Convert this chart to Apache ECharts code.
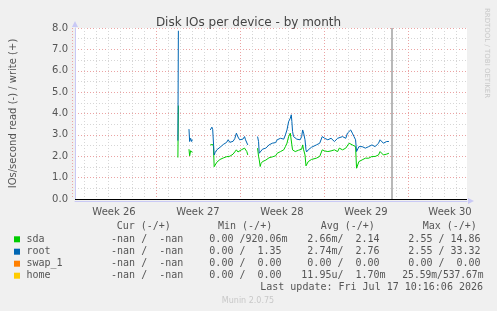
<!DOCTYPE html>
<html>
<head>
<meta charset="utf-8">
<script src="https://cdn.jsdelivr.net/npm/echarts@6/dist/echarts.min.js"></script>
<style>
html, body { margin: 0; padding: 0; background: #f0f0f0; }
#main { width: 497px; height: 311px; }
</style>
</head>
<body>
<div id="main"></div>
<script>
// days counted from the Monday that starts week 26
var days = [
	8.333, 8.375, 8.8,
	9.275, 9.333, 9.417, 9.5, 9.558, 10.3,
	11.083, 11.225, 11.292, 11.358, 11.417, 11.5, 11.642, 11.775, 11.917, 12.058,
	12.192, 12.333, 12.475, 12.608, 12.75, 12.892, 13.025, 13.167, 13.308, 13.442,
	13.583, 13.725, 13.858, 14.0, 14.083, 14.192, 14.275, 14.7,
	15.108, 15.192, 15.25, 15.333, 15.392, 15.525, 15.667, 15.808, 15.942, 16.083,
	16.225, 16.358, 16.5, 16.642, 16.775, 16.917, 17.058, 17.192, 17.333, 17.475,
	17.608, 17.75, 17.892, 17.975, 18.025, 18.083, 18.167, 18.308, 18.442, 18.583,
	18.725, 18.858, 18.942, 19.025, 19.142, 19.225, 19.275, 19.417, 19.558, 19.692,
	19.833, 20.108, 20.392, 20.525, 20.608, 20.808, 21.083, 21.358, 21.642, 21.917,
	22.058, 22.333, 22.608, 22.75, 22.892, 23.025, 23.167, 23.308, 23.442, 23.525,
	23.725, 23.858, 24.0, 24.275, 24.558, 24.833, 25.108, 25.392, 25.525, 25.667,
	25.808, 25.942, 26.083, 26.275
];
// sda write (green), null = no data
var sdaWrite = [
	1.94, 4.37, null,
	2.33, 2.02, 2.26, 2.2, 2.17, null,
	2.53, 2.61, 2.55, 2.45, 1.51, 1.6, 1.72, 1.78, 1.85, 1.88,
	1.92, 1.95, 1.98, 2.05, 2.0, 2.02, 2.1, 2.15, 2.3, 2.2,
	2.22, 2.30, 2.22, 2.38, 2.30, 2.22, 2.06, null,
	2.38, 2.0, 1.83, 1.52, 1.65, 1.75, 1.80, 1.82, 1.91, 1.93,
	1.99, 1.97, 2.06, 2.02, 2.14, 2.10, 2.22, 2.18, 2.30, 2.45,
	2.61, 2.92, 3.08, 3.0, 2.53, 2.30, 2.25, 2.22, 2.30, 2.28,
	2.30, 2.33, 2.53, 2.30, 2.06, 1.55, 1.60, 1.75, 1.83, 1.85,
	1.83, 1.91, 1.99, 1.95, 2.30, 2.25, 2.22, 2.25, 2.30, 2.22,
	2.38, 2.30, 2.38, 2.45, 2.61, 2.55, 2.53, 2.53, 2.45, 1.44,
	1.75, 1.78, 1.83, 1.91, 1.91, 1.99, 1.99, 2.06, 2.22, 2.22,
	2.06, 2.06, 2.10, 2.14
];
// root write (blue)
var rootWrite = [
	2.73, 7.87, null,
	3.27, 2.69, 2.84, 2.69, 2.77, null,
	3.23, 3.36, 3.25, 3.2, 2.06, 2.17, 2.3, 2.38, 2.42, 2.48,
	2.55, 2.6, 2.65, 2.77, 2.65, 2.72, 2.7, 2.82, 3.08, 2.9,
	2.77, 2.84, 2.8, 2.92, 2.77, 2.69, 2.53, null,
	2.92, 2.69, 2.14, 2.2, 2.22, 2.33, 2.30, 2.38, 2.42, 2.53,
	2.50, 2.61, 2.69, 2.64, 2.77, 2.74, 2.84, 2.92, 2.80, 3.0,
	3.23, 3.62, 3.78, 3.94, 3.62, 3.16, 2.92, 2.84, 2.80, 2.84,
	2.77, 2.92, 3.23, 3.08, 2.77, 2.3, 2.2, 2.30, 2.38, 2.42,
	2.45, 2.53, 2.61, 2.53, 2.92, 2.84, 2.77, 2.84, 2.69, 2.84,
	2.77, 2.92, 2.84, 3.08, 3.0, 3.23, 3.08, 2.92, 2.77, 2.22,
	2.45, 2.38, 2.45, 2.38, 2.45, 2.53, 2.45, 2.61, 2.77, 2.84,
	2.61, 2.53, 2.69, 2.69
];
var weekLabels = ['Week 26', 'Week 27', 'Week 28', 'Week 29', 'Week 30'];
var nowDay = 26.5;

// legend table
var devices = ['sda', 'root', 'swap_1', 'home'];
var devColors = ['#00cc00', '#0066b3', '#ff8000', '#ffcc00'];
var curRead = ['-nan', '-nan', '-nan', '-nan'];
var curWrite = ['-nan', '-nan', '-nan', '-nan'];
var minRead = ['0.00', '0.00', '0.00', '0.00'];
var minWrite = ['920.06m', '1.35', '0.00', '0.00'];
var avgRead = ['2.66m', '2.74m', '0.00', '11.95u'];
var avgWrite = ['2.14', '2.76', '0.00', '1.70m'];
var maxRead = ['2.55', '2.55', '0.00', '25.59m'];
var maxWrite = ['14.86', '33.32', '0.00', '537.67m'];
var headers = ['Cur (-/+)', 'Min (-/+)', 'Avg (-/+)', 'Max (-/+)'];
var lastUpdate = 'Last update: Fri Jul 17 10:16:06 2026';

var myChart = echarts.init(document.getElementById('main'));

var DAY_PX = 12;
var X_MIN = (67 - 72) / DAY_PX;
var X_MAX = X_MIN + 400 / DAY_PX;
var GRID_DAYS = (467 - 72) / DAY_PX;
var MONO = 'DejaVu Sans Mono';

// rrdtool style "%6.2lf%s"
function pad(v) {
	var m = /^(-nan|-?[0-9.]+)([mukMG]?)$/.exec(v);
	var num = m[1];
	while (num.length < 6) num = ' ' + num;
	return num + (m[2] || ' ');
}
function cell(r, w) {
	return pad(r) + '/' + pad(w);
}

var graphics = [];
var headX = [116.7, 218, 320.7, 422.7];
var colX = [99, 197.3, 295.3, 396.3];
var rowY = [239.3, 251.7, 263.7, 275.7];
headers.forEach(function(h, i) {
	graphics.push({ type: 'text', x: headX[i], y: 226.7, silent: true,
		style: { text: h, font: '10px ' + MONO, fill: '#555', verticalAlign: 'middle' } });
});
devices.forEach(function(d, i) {
	var y = rowY[i];
	graphics.push({ type: 'rect', shape: { x: 14, y: y - 3, width: 6, height: 6 },
		style: { fill: devColors[i] }, silent: true });
	graphics.push({ type: 'text', x: 26.5, y: y, silent: true,
		style: { text: d, font: '10px ' + MONO, fill: '#555', verticalAlign: 'middle' } });
	var cells = [cell(curRead[i], curWrite[i]), cell(minRead[i], minWrite[i]),
		cell(avgRead[i], avgWrite[i]), cell(maxRead[i], maxWrite[i])];
	cells.forEach(function(c, j) {
		var lead = c.length - c.replace(/^ +/, '').length;
		var x = colX[j] + lead * 6.02;
		var txt = c.replace(/^ +/, '').replace(/ +$/, '');
		var size = 10;
		var w = txt.length * 6.02;
		if (x + w > 483.5) size = 10 * (483.5 - x) / w;
		graphics.push({ type: 'text', x: x, y: y, silent: true,
			style: { text: txt, font: size.toFixed(2) + 'px ' + MONO, fill: '#555', verticalAlign: 'middle' } });
	});
});
graphics.push({ type: 'text', x: 483, y: 287.7, silent: true,
	style: { text: lastUpdate, font: '10px ' + MONO, fill: '#555', align: 'right', verticalAlign: 'middle' } });
graphics.push({ type: 'text', x: 248, y: 300.5, silent: true,
	style: { text: 'Munin 2.0.75', font: '8px DejaVu Sans', fill: '#c8c8c8', align: 'center', verticalAlign: 'middle' } });
graphics.push({ type: 'text', x: 487, y: 53, rotation: -Math.PI / 2, silent: true,
	style: { text: 'RRDTOOL / TOBI OETIKER', font: '7px DejaVu Sans', fill: '#c8c8c8', align: 'center', verticalAlign: 'middle' } });

var redGrid = { color: '#eba3a3', width: 1, type: [1, 2] };
var greyGrid = { color: '#d6d6d6', width: 1, type: [1, 2] };
var lavender = '#c9c9f5';

var option = {
	backgroundColor: '#f0f0f0',
	animation: false,
	textStyle: { fontFamily: 'DejaVu Sans' },
	title: {
		text: 'Disk IOs per device - by month',
		left: 'center',
		top: 12,
		textStyle: { fontSize: 12, fontWeight: 'normal', color: '#444', fontFamily: 'DejaVu Sans' }
	},
	grid: [
		{ left: 67, right: 30, top: 28, bottom: 112, show: true, backgroundColor: '#fff', borderWidth: 0 },
		{ left: 72, right: 30, top: 28, bottom: 112 },
		{ left: 72, right: 5, top: 28, bottom: 112 }
	],
	xAxis: [{
		gridIndex: 0, type: 'value', min: X_MIN, max: X_MAX, position: 'bottom', offset: 2,
		axisLine: { show: true, onZero: false, lineStyle: { color: lavender, width: 1 },
			symbol: ['none', 'triangle'], symbolSize: [6, 6], symbolOffset: [0, 4] },
		axisTick: { show: false }, axisLabel: { show: false }, splitLine: { show: false }
	}, {
		gridIndex: 1, type: 'value', min: 0, max: GRID_DAYS, interval: 1,
		axisLine: { show: false }, axisTick: { show: false }, axisLabel: { show: false },
		splitLine: { show: true, showMinLine: true, showMaxLine: false, lineStyle: greyGrid }
	}, {
		gridIndex: 1, type: 'value', min: 0, max: GRID_DAYS, interval: 7,
		axisLine: { show: false }, axisTick: { show: false }, axisLabel: { show: false },
		splitLine: { show: true, showMinLine: true, showMaxLine: false, lineStyle: redGrid }
	}, {
		gridIndex: 2, type: 'category', data: weekLabels, boundaryGap: true,
		axisLine: { show: false }, axisTick: { show: false },
		axisLabel: { color: '#555', fontSize: 10, margin: 8 }
	}],
	yAxis: [{
		gridIndex: 0, type: 'value', min: 0, max: 8, interval: 1,
		name: 'IOs/second read (-) / write (+)',
		nameLocation: 'middle', nameGap: 57,
		nameTextStyle: { color: '#555', fontSize: 10 },
		axisLine: { show: true, onZero: false, lineStyle: { color: lavender, width: 1 },
			symbol: ['none', 'triangle'], symbolSize: [6, 6], symbolOffset: [0, 4] },
		axisTick: { show: false },
		axisLabel: { color: '#555', fontSize: 10, margin: 7, formatter: function(v) { return v.toFixed(1); } },
		splitLine: { show: true, showMinLine: false, lineStyle: redGrid },
		minorTick: { show: false, splitNumber: 2 },
		minorSplitLine: { show: true, lineStyle: greyGrid }
	}, {
		gridIndex: 1, type: 'value', min: 0, max: 8, show: false
	}, {
		gridIndex: 2, type: 'value', min: 0, max: 8, show: false
	}],
	series: [{
		name: 'sda',
		type: 'line',
		xAxisIndex: 0, yAxisIndex: 0,
		showSymbol: false, clip: false,
		lineStyle: { color: '#00cc00', width: 1 },
		data: days.map(function(d, i) { return [d, sdaWrite[i] == null ? '-' : sdaWrite[i]]; }),
		markLine: {
			silent: true, symbol: ['none', 'none'], label: { show: false },
			data: [
				{ yAxis: 0, lineStyle: { color: '#000', width: 1, type: 'solid' } },
				{ xAxis: nowDay, lineStyle: { color: '#a0a0a0', width: 1.5, type: 'solid' } }
			]
		}
	}, {
		name: 'root',
		type: 'line',
		xAxisIndex: 0, yAxisIndex: 0,
		showSymbol: false,
		lineStyle: { color: '#0066b3', width: 1 },
		data: days.map(function(d, i) { return [d, rootWrite[i] == null ? '-' : rootWrite[i]]; })
	}],
	graphic: graphics
};

myChart.setOption(option);
</script>
</body>
</html>
